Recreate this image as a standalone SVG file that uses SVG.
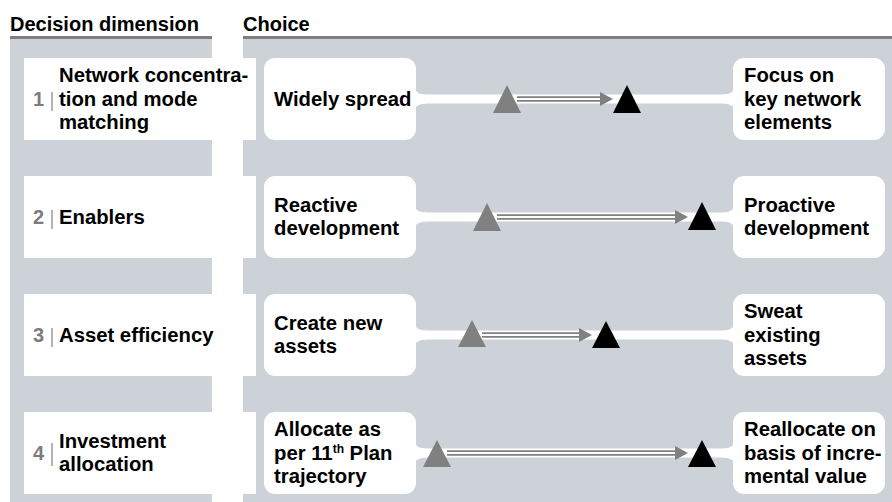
<svg xmlns="http://www.w3.org/2000/svg" width="892" height="502" viewBox="0 0 892 502">
<style>
text{font-family:"Liberation Sans",Arial,sans-serif;font-weight:bold;font-size:20.3px;fill:#000}
.hdr{font-size:20px}
.num{font-size:20px;fill:#7C7C7C}
.panel{fill:#CDD1D8}
.rule{fill:#7F7F7F}
.lbox{fill:#fff}
.cbox{fill:#fff}
.bar{stroke:#8C8C8C;stroke-width:1.3}
.band{fill:#fff}
.tg{fill:#808080}
.tb{fill:#000}
.dl-o{stroke:#808080;stroke-width:5.6;fill:none}
.dl-i{stroke:#fff;stroke-width:2;fill:none}
.ah{fill:#808080}
</style>
<rect width="892" height="502" fill="#fff"/>
<g id="header">
<text class="hdr" x="10" y="31">Decision dimension</text>
<text class="hdr" x="243" y="31">Choice</text>
<rect class="panel" x="10" y="39" width="202" height="463"/>
<rect class="panel" x="243" y="39" width="649" height="463"/>
<rect class="rule" x="10" y="36" width="202" height="3"/>
<rect class="rule" x="243" y="36" width="649" height="3"/>
</g>
<g id="connectors">
<rect class="band" x="415" y="94.5" width="320" height="9"/>
<path class="band" d="M414,89 Q418,94.5 426,94.5 L426,103.5 Q418,103.5 414,109 Z"/>
<path class="band" d="M735,89 Q731,94.5 723,94.5 L723,103.5 Q731,103.5 735,109 Z"/>
<rect class="band" x="415" y="212.5" width="320" height="9"/>
<path class="band" d="M414,207 Q418,212.5 426,212.5 L426,221.5 Q418,221.5 414,227 Z"/>
<path class="band" d="M735,207 Q731,212.5 723,212.5 L723,221.5 Q731,221.5 735,227 Z"/>
<rect class="band" x="415" y="330.5" width="320" height="9"/>
<path class="band" d="M414,325 Q418,330.5 426,330.5 L426,339.5 Q418,339.5 414,345 Z"/>
<path class="band" d="M735,325 Q731,330.5 723,330.5 L723,339.5 Q731,339.5 735,345 Z"/>
<rect class="band" x="415" y="448.5" width="320" height="9"/>
<path class="band" d="M414,443 Q418,448.5 426,448.5 L426,457.5 Q418,457.5 414,463 Z"/>
<path class="band" d="M735,443 Q731,448.5 723,448.5 L723,457.5 Q731,457.5 735,463 Z"/>

<line class="dl-o" x1="517" y1="99" x2="602" y2="99"/>
<line class="dl-i" x1="517" y1="99" x2="601" y2="99"/>
<polygon class="ah" points="613,99 600,92 600,106"/>

<line class="dl-o" x1="497" y1="217" x2="677" y2="217"/>
<line class="dl-i" x1="497" y1="217" x2="676" y2="217"/>
<polygon class="ah" points="688,217 675,210 675,224"/>

<line class="dl-o" x1="482" y1="335" x2="581" y2="335"/>
<line class="dl-i" x1="482" y1="335" x2="580" y2="335"/>
<polygon class="ah" points="592,335 579,328 579,342"/>

<line class="dl-o" x1="447" y1="453" x2="677" y2="453"/>
<line class="dl-i" x1="447" y1="453" x2="676" y2="453"/>
<polygon class="ah" points="688,453 675,446 675,460"/>

<polygon class="tg" points="507,85 493,113 521,113"/>
<polygon class="tb" points="627,85 613,113 641,113"/>
<polygon class="tg" points="487,203 473,231 501,231"/>
<polygon class="tb" points="702,202 688,230 716,230"/>
<polygon class="tg" points="472,320 458,347 486,347"/>
<polygon class="tb" points="606,321 592,348 620,348"/>
<polygon class="tg" points="437,440 423,467 451,467"/>
<polygon class="tb" points="702,440 688,467 716,467"/>
</g>

<g id="dim1">
<rect class="lbox" x="24" y="58" width="232" height="82"/>
<text class="num" x="33" y="106">1</text>
<line class="bar" x1="52" y1="92" x2="52" y2="111"/>
<text x="59" y="82">Network concentra-</text>
<text x="59" y="105.5">tion and mode</text>
<text x="59" y="129">matching</text>
</g>
<g id="from1">
<rect class="cbox" x="264" y="58" width="152" height="82" rx="11"/>
<text x="274" y="106">Widely spread</text>
</g>
<g id="to1">
<rect class="cbox" x="733" y="58" width="152" height="82" rx="11"/>
<text x="744" y="82">Focus on</text>
<text x="744" y="105.5">key network</text>
<text x="744" y="129">elements</text>
</g>

<g id="dim2">
<rect class="lbox" x="24" y="176" width="232" height="82"/>
<text class="num" x="33" y="224">2</text>
<line class="bar" x1="52" y1="210" x2="52" y2="229"/>
<text x="59" y="224">Enablers</text>
</g>
<g id="from2">
<rect class="cbox" x="264" y="176" width="152" height="82" rx="11"/>
<text x="274" y="211.5">Reactive</text>
<text x="274" y="235">development</text>
</g>
<g id="to2">
<rect class="cbox" x="733" y="176" width="152" height="82" rx="11"/>
<text x="744" y="211.5">Proactive</text>
<text x="744" y="235">development</text>
</g>

<g id="dim3">
<rect class="lbox" x="24" y="294" width="232" height="82"/>
<text class="num" x="33" y="342">3</text>
<line class="bar" x1="52" y1="328" x2="52" y2="347"/>
<text x="59" y="342">Asset efficiency</text>
</g>
<g id="from3">
<rect class="cbox" x="264" y="294" width="152" height="82" rx="11"/>
<text x="274" y="329.5">Create new</text>
<text x="274" y="353">assets</text>
</g>
<g id="to3">
<rect class="cbox" x="733" y="294" width="152" height="82" rx="11"/>
<text x="744" y="318">Sweat</text>
<text x="744" y="341.5">existing</text>
<text x="744" y="365">assets</text>
</g>

<g id="dim4">
<rect class="lbox" x="24" y="412" width="232" height="82"/>
<text class="num" x="33" y="460">4</text>
<line class="bar" x1="52" y1="443" x2="52" y2="466"/>
<text x="59" y="447.5">Investment</text>
<text x="59" y="471">allocation</text>
</g>
<g id="from4">
<rect class="cbox" x="264" y="412" width="152" height="82" rx="11"/>
<text x="274" y="436">Allocate as</text>
<text x="274" y="459.5">per 11<tspan font-size="12" dy="-7">th</tspan><tspan dy="7"> Plan</tspan></text>
<text x="274" y="483">trajectory</text>
</g>
<g id="to4">
<rect class="cbox" x="733" y="412" width="152" height="82" rx="11"/>
<text x="744" y="436">Reallocate on</text>
<text x="744" y="459.5">basis of incre-</text>
<text x="744" y="483">mental value</text>
</g>
</svg>
